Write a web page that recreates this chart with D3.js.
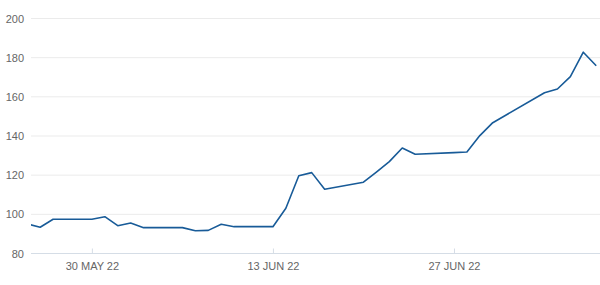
<!DOCTYPE html>
<html lang="en">
<head>
  <meta charset="utf-8">
  <title>Price line</title>
  <script src="https://d3js.org/d3.v7.min.js"></script>
  <style>
    body { margin: 0; background: #fff; }
    text { font-family: "Liberation Sans", Arial, sans-serif; }
  </style>
</head>
<body>
<script>

// trading days and closing values
var dates = ["2022-05-25","2022-05-26","2022-05-27","2022-05-30","2022-05-31",
  "2022-06-01","2022-06-02","2022-06-03","2022-06-06","2022-06-07","2022-06-08",
  "2022-06-09","2022-06-10","2022-06-13","2022-06-14","2022-06-15","2022-06-16",
  "2022-06-17","2022-06-20","2022-06-21","2022-06-22","2022-06-23","2022-06-24",
  "2022-06-27","2022-06-28","2022-06-29","2022-06-30","2022-07-01","2022-07-04",
  "2022-07-05","2022-07-06","2022-07-07","2022-07-08"];
var values = [95.1, 93.4, 97.5, 97.5, 98.8,
  94.2, 95.6, 93.2, 93.2, 91.6, 91.8,
  94.9, 93.7, 93.7, 103.1, 119.7, 121.3,
  112.8, 116.4, 121.6, 126.9, 133.9, 130.7,
  131.5, 131.8, 140.2, 146.8, 150.6, 162.1,
  164.0, 170.3, 182.8, 175.9];
var yTicks = [80, 100, 120, 140, 160, 180, 200];
var xTickDates = ["2022-05-30", "2022-06-13", "2022-06-27"];

var width = 600, height = 285;
var parse = d3.timeParse("%Y-%m-%d");

var data = dates.map(function(d, i) {
  return { date: parse(d), value: values[i] };
});

var svg = d3.select("body").append("svg")
    .attr("width", width)
    .attr("height", height);

// visible window starts a few hours after the first point
var x = d3.scaleTime()
    .domain([new Date(2022, 4, 25, 7), new Date(2022, 6, 8, 7)])
    .range([31, 600]);

var y = d3.scaleLinear()
    .domain([80, 200])
    .range([253.5, 18.5]);

// grid lines
svg.append("g")
  .selectAll("line")
  .data(yTicks)
  .enter().append("line")
    .attr("x1", x.range()[0])
    .attr("x2", x.range()[1])
    .attr("y1", function(d) { return y(d); })
    .attr("y2", function(d) { return y(d); })
    .attr("stroke", function(d) { return d === 80 ? "#d5dde6" : "#ebebeb"; })
    .attr("stroke-width", 1);

// y labels
var yAxis = svg.append("g")
    .attr("transform", "translate(31,0)")
    .call(d3.axisLeft(y).tickValues(yTicks).tickSize(0).tickPadding(7));
yAxis.select(".domain").remove();
yAxis.selectAll("text")
    .attr("fill", "#666")
    .attr("font-size", 11)
    .attr("font-family", "Liberation Sans, Arial, sans-serif");

// x axis
var fmt = d3.timeFormat("%d %b %y");
var xAxis = svg.append("g")
    .attr("transform", "translate(0," + y(80) + ")")
    .call(d3.axisTop(x)
      .tickValues(xTickDates.map(parse))
      .tickSize(5)
      .tickFormat(function(d) { return fmt(d).toUpperCase(); }));
xAxis.select(".domain").remove();
xAxis.selectAll(".tick line").attr("stroke", "#d5dde6");
xAxis.selectAll("text")
    .attr("y", 16)
    .attr("dy", 0)
    .attr("fill", "#666")
    .attr("font-size", 11)
    .attr("font-family", "Liberation Sans, Arial, sans-serif");

svg.append("clipPath")
    .attr("id", "plot")
  .append("rect")
    .attr("x", x.range()[0])
    .attr("y", 0)
    .attr("width", x.range()[1] - x.range()[0])
    .attr("height", height);

var line = d3.line()
    .x(function(d) { return x(d.date); })
    .y(function(d) { return y(d.value); });

svg.append("path")
    .datum(data)
    .attr("clip-path", "url(#plot)")
    .attr("fill", "none")
    .attr("stroke", "#185b98")
    .attr("stroke-width", 1.6)
    .attr("stroke-linejoin", "round")
    .attr("d", line);

</script>
</body>
</html>
